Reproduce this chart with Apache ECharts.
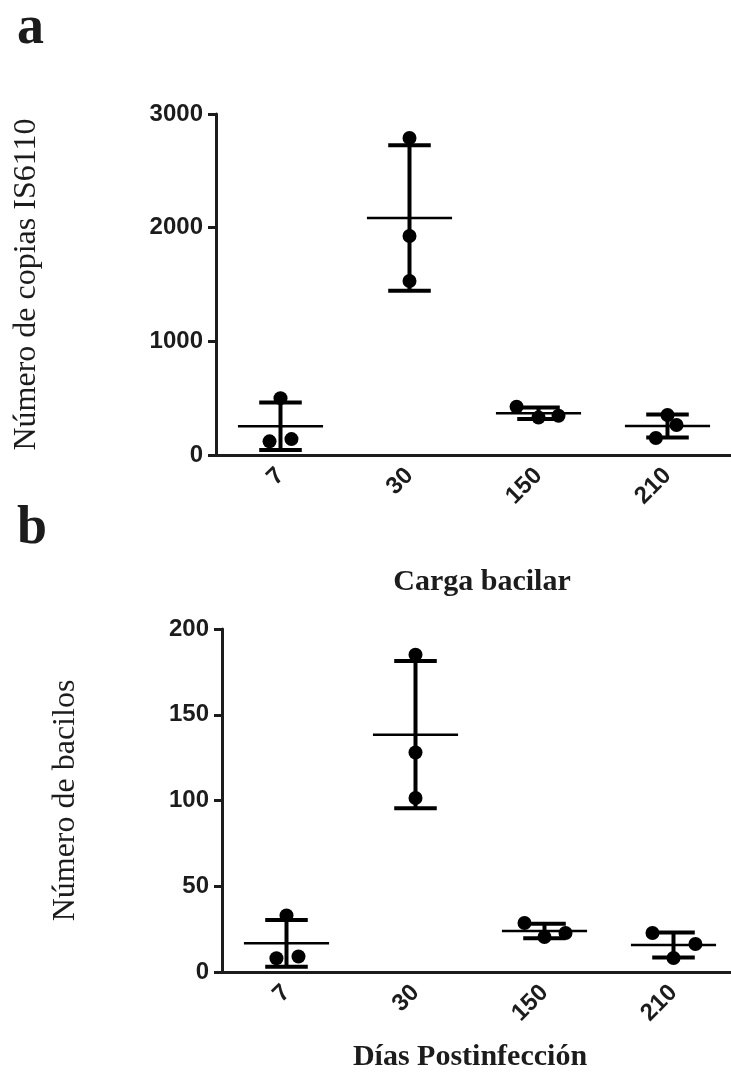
<!DOCTYPE html>
<html lang="es">
<head>
<meta charset="UTF-8">
<title>Carga bacilar</title>
<style>
  html, body { margin: 0; padding: 0; background: #fff; }
  #chart { width: 731px; height: 1085px; }
</style>
</head>
<body>
<div id="chart"></div>
<script src="https://cdn.jsdelivr.net/npm/echarts@6/dist/echarts.min.js"></script>
<script>
  // días postinfección
  const categories = ['7', '30', '150', '210'];

  // a: número de copias IS6110 (puntos, media, DE)
  const copiesPoints = [[500, 120, 140], [2789, 1927, 1531], [425, 330, 345], [352, 264, 150]];
  const copiesMean = [253, 2085, 367, 255];
  const copiesSD = [208, 641, 51, 101];
  const copiesTicks = [0, 1000, 2000, 3000];

  // b: número de bacilos
  const bacilosPoints = [[33, 8, 9], [185, 128, 101.5], [28.6, 20.4, 22.7], [22.7, 16.3, 8.2]];
  const bacilosMean = [16.7, 138.4, 23.9, 15.7];
  const bacilosSD = [13.6, 42.9, 4.2, 7.3];
  const bacilosTicks = [0, 50, 100, 150, 200];

  // separación horizontal de los puntos que se solapan (fracción de la banda)
  const copiesSpread = [[0, -0.085, 0.085], [0, 0, 0], [-0.17, 0, 0.155], [0, 0.07, -0.09]];
  const bacilosSpread = [[0, -0.078, 0.093], [0, 0, 0], [-0.155, 0, 0.163], [-0.163, 0.17, 0]];

  const ink = '#1c1c1c';
  const sans = 'Liberation Sans';
  const serif = 'Liberation Serif';

  function pointData(points, spread) {
    const out = [];
    points.forEach((vals, i) => vals.forEach((v, k) => out.push([i, v, spread[i][k]])));
    return out;
  }

  function barData(mean, sd) {
    return mean.map((m, i) => [i, m, sd[i]]);
  }

  function renderPoint(params, api) {
    const c = api.coord([api.value(0), api.value(1)]);
    const band = api.size([1, 0])[0];
    return {
      type: 'circle',
      shape: { cx: c[0] + api.value(2) * band, cy: c[1], r: 7 },
      style: { fill: '#000' }
    };
  }

  function renderBar(params, api) {
    const i = api.value(0), m = api.value(1), sd = api.value(2);
    const mid = api.coord([i, m]);
    const hi = api.coord([i, m + sd]);
    const lo = api.coord([i, m - sd]);
    const band = api.size([1, 0])[0];
    const meanHalf = band * 0.33, capHalf = band * 0.165;
    const thick = { stroke: '#000', lineWidth: 4 };
    return {
      type: 'group',
      children: [
        { type: 'line', shape: { x1: mid[0] - meanHalf, y1: mid[1], x2: mid[0] + meanHalf, y2: mid[1] },
          style: { stroke: '#000', lineWidth: 2.5 } },
        { type: 'line', shape: { x1: mid[0], y1: hi[1], x2: mid[0], y2: lo[1] }, style: thick },
        { type: 'line', shape: { x1: mid[0] - capHalf, y1: hi[1], x2: mid[0] + capHalf, y2: hi[1] }, style: thick },
        { type: 'line', shape: { x1: mid[0] - capHalf, y1: lo[1], x2: mid[0] + capHalf, y2: lo[1] }, style: thick }
      ]
    };
  }

  function xAxisFor(gridIndex) {
    return {
      type: 'category',
      gridIndex: gridIndex,
      data: categories,
      axisLine: { lineStyle: { color: ink, width: 3 } },
      axisTick: { alignWithLabel: true, length: 8, lineStyle: { color: ink, width: 3 } },
      axisLabel: { interval: 0, rotate: 45, margin: 17, color: ink, fontFamily: sans, fontWeight: 'bold', fontSize: 24 }
    };
  }

  function yAxisFor(gridIndex, ticks, name, gap) {
    return {
      type: 'value',
      gridIndex: gridIndex,
      min: ticks[0],
      max: ticks[ticks.length - 1],
      interval: ticks[1] - ticks[0],
      name: name,
      nameLocation: 'middle',
      nameRotate: 90,
      nameGap: gap,
      nameTextStyle: { color: ink, fontFamily: serif, fontSize: 32 },
      splitLine: { show: false },
      axisLine: { show: true, lineStyle: { color: ink, width: 3 } },
      axisTick: { show: true, length: 8, lineStyle: { color: ink, width: 3 } },
      axisLabel: { margin: 13, color: ink, fontFamily: sans, fontWeight: 'bold', fontSize: 24,
                   formatter: (v) => String(v) }
    };
  }

  const chart = echarts.init(document.getElementById('chart'));

  chart.setOption({
    backgroundColor: '#fff',
    animation: false,
    grid: [
      { left: 216, top: 114, width: 516, height: 341, outerBoundsMode: 'none' },
      { left: 222, top: 629, width: 516, height: 343, outerBoundsMode: 'none' }
    ],
    xAxis: [xAxisFor(0), xAxisFor(1)],
    yAxis: [
      yAxisFor(0, copiesTicks, 'Número de copias IS6110', 173),
      yAxisFor(1, bacilosTicks, 'Número de bacilos', 140)
    ],
    graphic: [
      { type: 'text', left: 17, top: 2, style: { text: 'a', fill: ink, font: 'bold 54px Liberation Serif' } },
      { type: 'text', left: 17, top: 502, style: { text: 'b', fill: ink, font: 'bold 54px Liberation Serif' } },
      { type: 'text', x: 482, y: 582, style: { text: 'Carga bacilar', fill: ink, font: 'bold 30px Liberation Serif', textAlign: 'center', textVerticalAlign: 'middle' } },
      { type: 'text', x: 470, y: 1057, style: { text: 'Días Postinfección', fill: ink, font: 'bold 30px Liberation Serif', textAlign: 'center', textVerticalAlign: 'middle' } }
    ],
    series: [
      { type: 'custom', xAxisIndex: 0, yAxisIndex: 0, clip: false, renderItem: renderPoint, data: pointData(copiesPoints, copiesSpread) },
      { type: 'custom', xAxisIndex: 0, yAxisIndex: 0, clip: false, renderItem: renderBar, data: barData(copiesMean, copiesSD) },
      { type: 'custom', xAxisIndex: 1, yAxisIndex: 1, clip: false, renderItem: renderPoint, data: pointData(bacilosPoints, bacilosSpread) },
      { type: 'custom', xAxisIndex: 1, yAxisIndex: 1, clip: false, renderItem: renderBar, data: barData(bacilosMean, bacilosSD) }
    ]
  });
</script>
</body>
</html>
